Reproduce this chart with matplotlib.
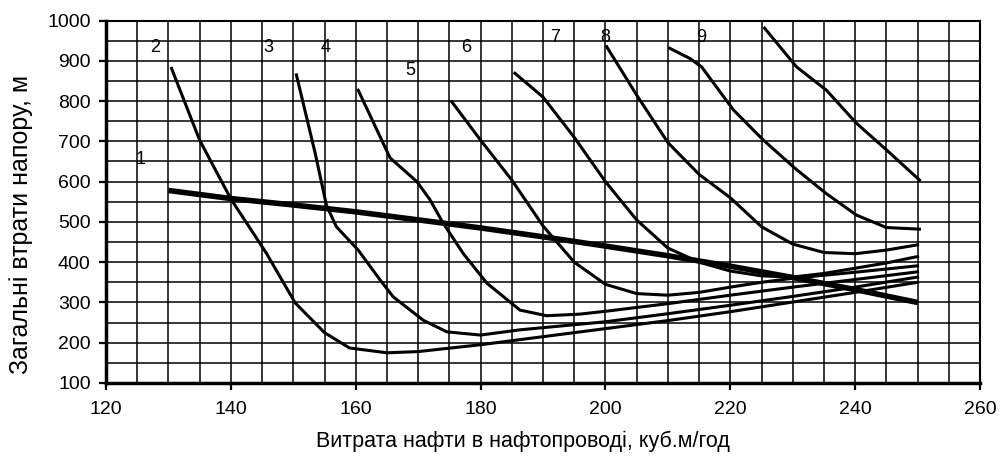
import matplotlib
matplotlib.use("Agg")
import matplotlib.pyplot as plt
from matplotlib.ticker import MultipleLocator

plt.rcParams['font.family'] = ['Liberation Sans', 'DejaVu Sans']

# Curve 1 (thick): pipeline characteristic
x1 = [130, 140, 150, 160, 170, 180, 190, 200, 210, 220, 230, 240, 250]
y1 = [578, 558, 542, 525, 505, 485, 463, 440, 416, 390, 362, 332, 300]

x2 = [130.5, 135, 140, 145.7, 150.3, 155, 159, 165, 170, 180, 190, 200, 210, 220, 230, 240, 250]
y2 = [881, 703, 557, 422, 299, 225, 187, 175, 178, 195, 215, 235, 255, 277, 301, 325, 350]

x3 = [150.5, 153.5, 155.3, 156.9, 160.4, 163.9, 166, 170.8, 174.6, 180, 186.3, 195.9, 200, 210, 220, 230, 240, 250]
y3 = [865, 671, 542, 488, 430, 356, 314, 256, 227, 219, 232, 246, 252, 272, 293, 315, 338, 363]

x4 = [160.4, 165.5, 169.8, 171.9, 174, 177.2, 181, 186.3, 190.6, 195.9, 200, 210, 220, 230, 240, 250]
y4 = [827, 659, 600, 555, 497, 422, 348, 281, 267, 271, 278, 297, 318, 338, 357, 376]

x5 = [175.4, 180, 185, 190, 195, 200, 205, 210, 215, 220, 225, 230, 240, 250]
y5 = [798, 703, 604, 490, 400, 345, 322, 318, 325, 338, 350, 360, 375, 391]

x6 = [185.5, 190, 195, 200, 205, 210, 215, 220, 225, 230, 235, 240, 245, 250]
y6 = [869, 810, 710, 600, 505, 435, 400, 378, 366, 363, 372, 385, 398, 414]

x7 = [200.2, 205, 210, 215, 220, 225, 230, 235, 240, 245, 250]
y7 = [935, 815, 697, 618, 560, 488, 445, 424, 421, 430, 443]

x8 = [210.3, 213.5, 215.4, 220.5, 225.3, 230.6, 235.4, 240.2, 245, 250.3]
y8 = [931, 906, 885, 778, 703, 630, 570, 517, 486, 482]

x9 = [225.5, 230.6, 235.4, 240.2, 245, 250.3]
y9 = [981, 885, 827, 745, 679, 604]

curve_labels = ["1", "2", "3", "4", "5", "6", "7", "8", "9"]
label_x = [125.6, 127.8, 146.0, 155.2, 168.7, 177.7, 192.0, 200.0, 215.3]
label_y = [654, 934, 934, 934, 877, 934, 957, 957, 957]

xlabel = "Витрата нафти в нафтопроводі, куб.м/год"
ylabel = "Загальні втрати напору, м"

fig = plt.figure(figsize=(10, 4.61), dpi=100)
ax = fig.add_axes([0.106, 0.1692, 0.874, 0.7863])

ax.set_xlim(120, 260)
ax.set_ylim(100, 1000)
ax.xaxis.set_major_locator(MultipleLocator(20))
ax.yaxis.set_major_locator(MultipleLocator(100))
ax.xaxis.set_minor_locator(MultipleLocator(5))
ax.yaxis.set_minor_locator(MultipleLocator(50))
ax.grid(which='both', color='black', linewidth=1.1)
ax.set_axisbelow(True)
ax.tick_params(which='minor', length=0)
ax.tick_params(which='major', length=5, width=1.6, direction='out', labelsize=14, colors='black')
ax.tick_params(axis='x', which='major', pad=8)
ax.tick_params(axis='y', which='major', pad=6)

for side in ['left', 'bottom']:
    ax.spines[side].set_linewidth(2.5)
for side in ['top', 'right']:
    ax.spines[side].set_linewidth(1.5)

ax.plot(x1, y1, color='black', linewidth=4.0, solid_capstyle='butt')
for xs, ys in [(x2, y2), (x3, y3), (x4, y4), (x5, y5), (x6, y6), (x7, y7), (x8, y8), (x9, y9)]:
    ax.plot(xs, ys, color='black', linewidth=2.2, solid_joinstyle='round')

for t, lx, ly in zip(curve_labels, label_x, label_y):
    ax.text(lx, ly, t, fontsize=13, ha='center', va='center')

fig.text(0.523, 1 - 441 / 461, xlabel, fontsize=15.5, ha='center', va='center')
fig.text(0.021, 1 - 224 / 461, ylabel, fontsize=18, ha='center', va='center', rotation=90)

fig.savefig("out.png", dpi=100)
